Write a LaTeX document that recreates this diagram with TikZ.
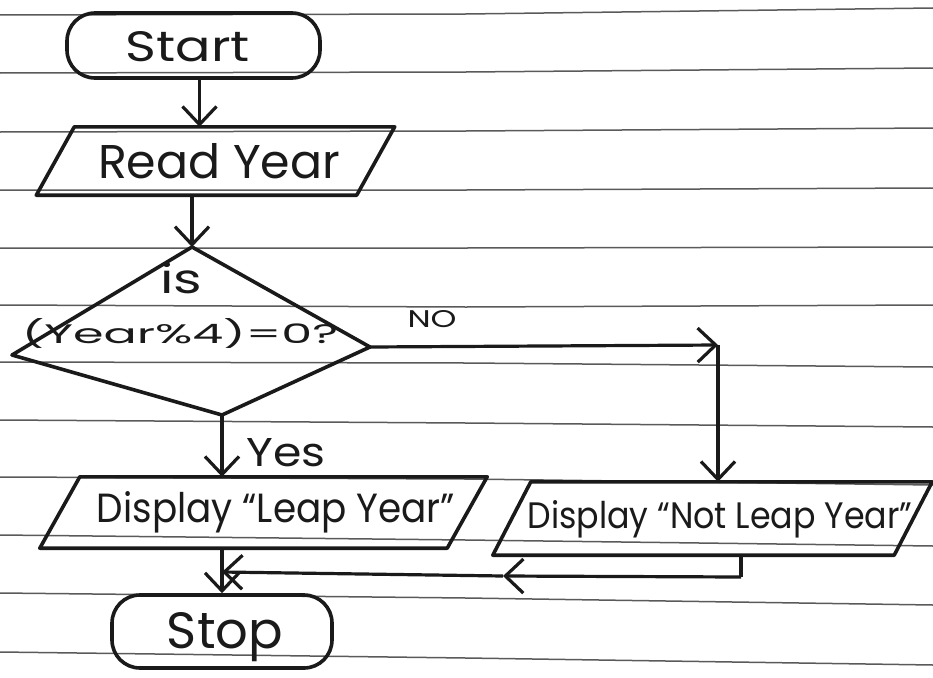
\documentclass[tikz,border=0pt]{standalone}
\usepackage{fontspec}
\newfontfamily\hand{Poppins}
\usetikzlibrary{arrows.meta}
\definecolor{ink}{HTML}{1A1A1A}
\definecolor{rule}{HTML}{5A5A5A}
\newcommand{\fitt}[3]{\resizebox{#1}{#2}{\hand #3}}
\newcommand{\pgram}[2]{\draw[outline] ([xshift=#2]#1.north west) -- ([xshift=#2]#1.north east) -- ([xshift=-#2]#1.south east) -- ([xshift=-#2]#1.south west) -- cycle;}
\begin{document}
\begin{tikzpicture}[x=1pt,y=-1pt,
 outline/.style={draw=ink, line width=3.6pt, line join=round},
 term/.style={draw=ink, line width=3.6pt, rounded corners=28pt, inner sep=0pt},
 io/.style={draw=none, inner sep=0pt},
 txt/.style={anchor=base, inner sep=0pt, text=ink},
 plain/.style={draw=ink, line width=3.2pt},
 arr/.style={draw=ink, line width=3.2pt, -{Straight Barb[length=18pt,width=34pt,line width=3.2pt]}},
 paper/.style={draw=rule, line width=1.5pt}]
\useasboundingbox[fill=white] (0,0) rectangle (933,677);
% ruled paper
\foreach \a/\b/\c in {15/14/8, 73/72/68, 132/131/128, 190/190/188, 248/248/247, 305/307/305,
  362/363/367, 420/423/427, 477/479/485, 535/540/546, 593/598/605, 652/658/665}
  {\draw[paper] (0,\a) -- (466,\b) -- (933,\c);}
% shapes
\node[term, minimum width=253pt, minimum height=65pt] (start) at (193.5,45.5) {};
\node[io, minimum width=320pt, minimum height=68pt] (read) at (215.5,161) {};
\pgram{read}{19pt}
\coordinate (dt) at (192,247);
\coordinate (dr) at (370,347);
\coordinate (db) at (222,415);
\coordinate (dl) at (12,355);
\draw[outline] (dt) -- (dr) -- (db) -- (dl) -- cycle;
\node[io, minimum width=407pt, minimum height=71pt] (leap) at (263.5,512.5) {};
\pgram{leap}{20pt}
\node[io, minimum width=401pt, minimum height=73pt] (nl) at (712.5,518.5) {};
\pgram{nl}{19pt}
\node[term, minimum width=220pt, minimum height=73pt] (stop) at (222,631.5) {};
% texts
\node[txt] (tstart) at (188,62) {\fitt{124pt}{30pt}{Start}};
\node[txt] (tread) at (219,178) {\fitt{242pt}{35pt}{Read Year}};
\node[txt] (tis) at (181,293) {\fitt{42pt}{31pt}{is}};
\node[txt] (tcond) at (180,343) {\fitt{316pt}{25pt}{(Year\%4)=0?}};
\node[txt] (tno) at (432,327) {\fitt{49pt}{17pt}{NO}};
\node[txt] (tyes) at (286,466) {\fitt{79pt}{28pt}{Yes}};
\node[txt] (tleap) at (276,522) {\fitt{358pt}{31pt}{Display “Leap Year”}};
\node[txt] (tnl) at (720,528) {\fitt{385pt}{28pt}{Display “Not Leap Year”}};
\node[txt] (tstop) at (225,648) {\fitt{116pt}{36pt}{Stop}};
% connectors
\coordinate (nc) at (718,345);
\coordinate (m1) at (741,577);
\coordinate (mm) at (503,576);
\coordinate (m2) at (222,572);
\draw[arr] ([xshift=6pt]start.south) -- ([xshift=6pt]start.south |- read.north);
\draw[arr] (dt |- read.south) -- (dt);
\draw[arr] (dr) -- (nc);
\draw[arr] (nc) -- (nc |- nl.north);
\draw[arr] (db) -- (db |- leap.north);
\draw[arr] (stop.north |- leap.south) -- (stop.north);
\draw[plain] (m1 |- nl.south) -- (m1);
\draw[arr] (m1) -- (mm);
\draw[arr] (mm) -- (m2);
\end{tikzpicture}
\end{document}
